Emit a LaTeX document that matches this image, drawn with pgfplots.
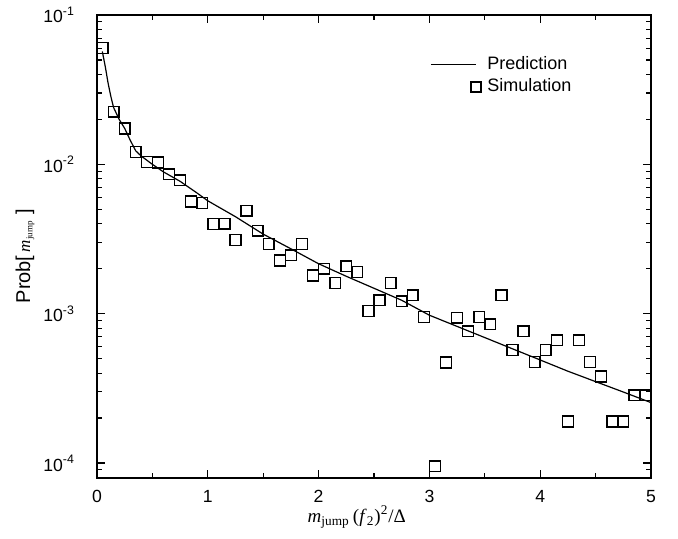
\documentclass[border=0pt]{standalone}
\usepackage{fontspec}
\setmainfont{Liberation Sans}
\newfontfamily\tnr{Liberation Serif}
\usepackage{pgfplots}
\pgfplotsset{compat=1.18}
\begin{document}
\begin{tikzpicture}
\begin{axis}[
  scale only axis,
  width=277pt, height=231.5pt,
  xmin=0, xmax=5,
  ymode=log, log basis y=10,
  ymin=7.943e-5, ymax=0.1,
  xtick={0,1,2,3,4,5},
  minor x tick num=1,
  /pgf/number format/assume math mode=true,
  axis line style={line width=0.75pt},
  every tick/.style={line width=0.6pt, black},
  major tick length=4pt,
  minor tick length=2.5pt,
  tick label style={font=\fontsize{8.8}{10}\selectfont},
  xticklabel style={yshift=-2.5pt},
  yticklabel style={anchor=east, xshift=-7.5pt},
  yticklabel={10\textsuperscript{\pgfmathparse{int(round(\tick))}\pgfmathresult}},
  xlabel={\tnr\fontsize{9.5}{11}\selectfont\textit{m}\textsubscript{jump}\,(\textit{f}\textsubscript{2})\textsuperscript{2}/Δ},
  xlabel style={at={(axis description cs:0.469,-0.084)}, anchor=center},
  ylabel={\fontsize{10}{12}\selectfont Prob[\,{\tnr\itshape\fontsize{8.5}{9}\selectfont m}\raisebox{-1.2pt}{\tnr\fontsize{4.5}{5}\selectfont jump}\,\,]},
  ylabel style={at={(axis description cs:-0.13,0.479)}, anchor=center, rotate=0},
  legend style={draw=none, fill=none, at={(axis description cs:0.601,0.92)}, anchor=north west,
    font=\fontsize{9}{10}\selectfont, inner sep=0pt, row sep=-0.8pt},
  legend cell align=left,
]
\addplot[black, line width=0.6pt, no marks,
  legend image code/.code={\draw (0pt,0pt) -- (22.5pt,0pt); \path (25pt,0pt);}]
coordinates {
(0.048,0.057) (0.075,0.045) (0.1,0.035) (0.125,0.0285) (0.15,0.0240)
(0.2,0.0200) (0.25,0.0174) (0.3,0.0145) (0.35,0.0123) (0.4,0.01135)
(0.5,0.0100) (0.6,0.0089) (0.75,0.0077) (0.9,0.00645) (1.0,0.0057)
(1.25,0.00446) (1.5,0.00341) (1.75,0.00272) (2.0,0.00216) (2.25,0.00178)
(2.5,0.00148) (2.75,0.00123) (3.0,0.000977) (3.25,0.000822) (3.5,0.000692)
(3.75,0.000582) (4.0,0.000490) (4.25,0.000412) (4.5,0.000351) (4.75,0.000299)
(5.0,0.000254)
};
\addlegendentry{\hspace{0.8pt}Prediction}
\addplot[black, only marks, mark=square, mark size=2.7pt, mark options={line width=0.7pt},
  legend image code/.code={\path (0pt,0pt); \draw[line width=0.7pt] (20pt,-2.5pt) rectangle (25pt,2.5pt);}]
coordinates {
(0.05,0.060) (0.15,0.0225) (0.25,0.0174) (0.35,0.0121) (0.45,0.0104)
(0.55,0.0103) (0.65,0.00858) (0.75,0.00782) (0.85,0.00564) (0.95,0.0055)
(1.05,0.00398) (1.15,0.0040) (1.25,0.00311) (1.35,0.00489) (1.45,0.0036)
(1.55,0.00293) (1.65,0.00227) (1.75,0.00246) (1.85,0.00293) (1.95,0.0018)
(2.05,0.0020) (2.15,0.00161) (2.25,0.00208) (2.35,0.0019) (2.45,0.00104)
(2.55,0.00123) (2.65,0.00161) (2.75,0.00121) (2.85,0.00133) (2.95,0.00095)
(3.05,0.000095) (3.15,0.000471) (3.25,0.00094) (3.35,0.000762) (3.45,0.00095)
(3.55,0.00085) (3.65,0.00133) (3.75,0.00057) (3.85,0.000762) (3.95,0.000474)
(4.05,0.00057) (4.15,0.000664) (4.25,0.00019) (4.35,0.000664) (4.45,0.000474)
(4.55,0.00038) (4.65,0.00019) (4.75,0.00019) (4.85,0.000284) (4.95,0.000284)
};
\addlegendentry{\hspace{0.8pt}Simulation}
\end{axis}
\path (current axis.south west) ++(-48.5pt,-30.5pt) coordinate (BBa);
\path (current axis.north east) ++(13.5pt,7.5pt) coordinate (BBb);
\pgfresetboundingbox
\useasboundingbox (BBa) rectangle (BBb);
\end{tikzpicture}
\end{document}
